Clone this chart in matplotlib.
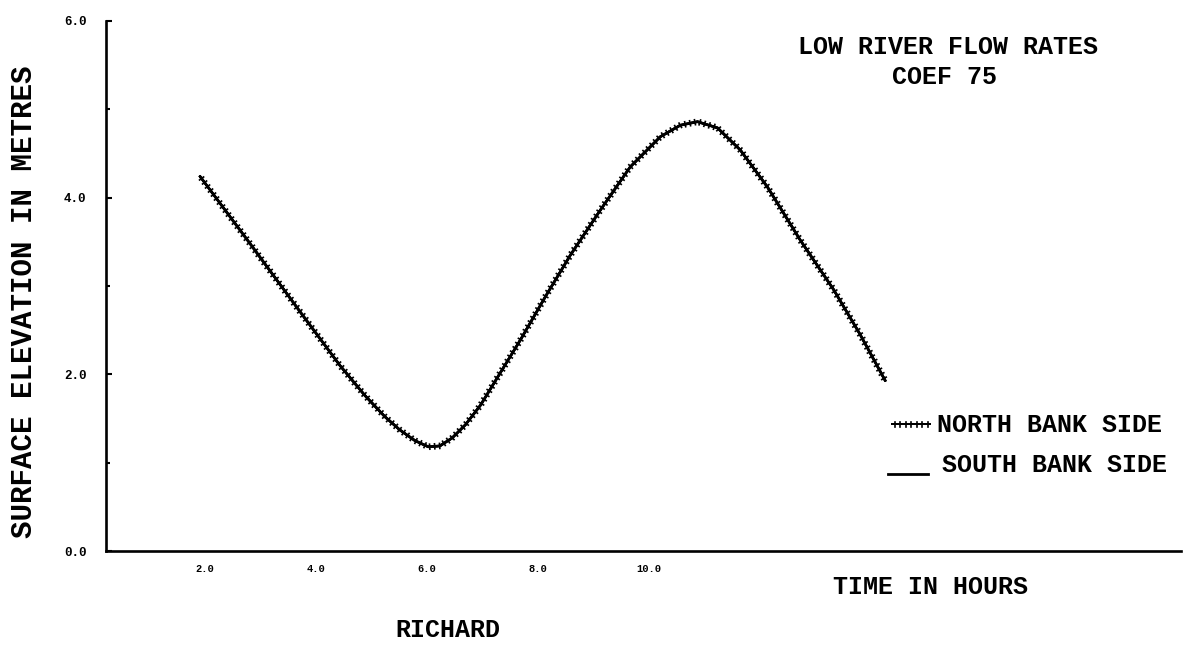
import matplotlib.pyplot as plt
import matplotlib.patheffects as pe

# surface elevation (m) against time (h), read at the plotted points
time_h = [1.91, 2.81, 3.71, 4.43, 4.88, 5.24, 5.51, 5.78, 6.02, 6.23, 6.45,
          6.69, 6.96, 7.32, 7.68, 8.13, 8.58, 9.12, 9.66, 10.20, 10.56, 10.87,
          11.23, 11.64, 12.13, 12.72, 13.32, 13.80, 14.25]
north_bank = [4.24, 3.48, 2.71, 2.10, 1.76, 1.52, 1.37, 1.25, 1.18, 1.19, 1.28,
              1.43, 1.65, 2.02, 2.39, 2.88, 3.35, 3.86, 4.35, 4.69, 4.82, 4.86,
              4.79, 4.54, 4.12, 3.52, 2.96, 2.45, 1.93]
south_bank = [4.24, 3.48, 2.71, 2.10, 1.76, 1.52, 1.37, 1.25, 1.18, 1.19, 1.28,
              1.43, 1.65, 2.02, 2.39, 2.88, 3.35, 3.86, 4.35, 4.69, 4.82, 4.86,
              4.79, 4.54, 4.12, 3.52, 2.96, 2.45, 1.93]

x_ticks = [2, 4, 6, 8, 10]
x_tick_labels = ["2.0", "4.0", "6.0", "8.0", "10.0"]
y_ticks = [0, 2, 4, 6]
y_tick_labels = ["0.0", "2.0", "4.0", "6.0"]

plt.rcParams["font.family"] = ["Liberation Mono", "DejaVu Sans Mono"]

fig = plt.figure(figsize=(11.86, 6.46), dpi=100)
ax = fig.add_axes([0.0894, 0.147, 0.906, 0.8205])

ticked = [pe.withTickedStroke(angle=90, spacing=3.6, length=0.5, linewidth=1.2),
          pe.withTickedStroke(angle=-90, spacing=3.6, length=0.5, linewidth=1.2),
          pe.Normal()]

ax.plot(time_h, south_bank, color="black", lw=2.0, solid_capstyle="round",
        solid_joinstyle="round")
ax.plot(time_h, north_bank, color="black", lw=1.6, solid_joinstyle="round",
        path_effects=ticked)

ax.set_xlim(0.216, 19.57)
ax.set_ylim(0, 6)

for side in ["top", "right"]:
    ax.spines[side].set_visible(False)
for side in ["left", "bottom"]:
    ax.spines[side].set_linewidth(1.9)

ax.set_xticks(x_ticks)
ax.set_xticklabels(x_tick_labels, fontsize=7.5, fontweight="bold")
ax.set_yticks(y_ticks)
ax.set_yticklabels(y_tick_labels, fontsize=9, fontweight="bold")
ax.set_yticks([1, 3, 5], minor=True)
ax.tick_params(axis="y", direction="in", length=4, width=1.5, pad=14)
ax.tick_params(axis="y", which="minor", direction="in", length=3, width=1.5)
ax.tick_params(axis="x", length=0, pad=9)

txt = dict(fontsize=18, fontweight="bold")
fig.text(24 / 1186, 1 - 302 / 646, "SURFACE ELEVATION IN METRES", rotation=90,
         ha="center", va="center", fontsize=21, fontweight="bold")
fig.text(948 / 1186, 1 - 47 / 646, "LOW RIVER FLOW RATES", ha="center",
         va="center", **txt)
fig.text(945 / 1186, 1 - 77 / 646, "COEF 75", ha="center", va="center", **txt)
fig.text(833 / 1186, 1 - 587 / 646, "TIME IN HOURS", ha="left", va="center",
         **txt)
fig.text(448 / 1186, 1 - 630 / 646, "RICHARD", ha="center", va="center", **txt)

# hand-made key on the right of the plot
key_n = plt.Line2D([892 / 1186, 930 / 1186], [1 - 424 / 646, 1 - 424 / 646],
                   transform=fig.transFigure, color="black", lw=1.4,
                   path_effects=ticked)
key_s = plt.Line2D([888 / 1186, 928 / 1186], [1 - 474 / 646, 1 - 474 / 646],
                   transform=fig.transFigure, color="black", lw=2.0)
fig.add_artist(key_n)
fig.add_artist(key_s)
fig.text(937 / 1186, 1 - 425 / 646, "NORTH BANK SIDE", ha="left", va="center",
         **txt)
fig.text(942 / 1186, 1 - 465 / 646, "SOUTH BANK SIDE", ha="left", va="center",
         **txt)

fig.savefig("out.png", dpi=100)
